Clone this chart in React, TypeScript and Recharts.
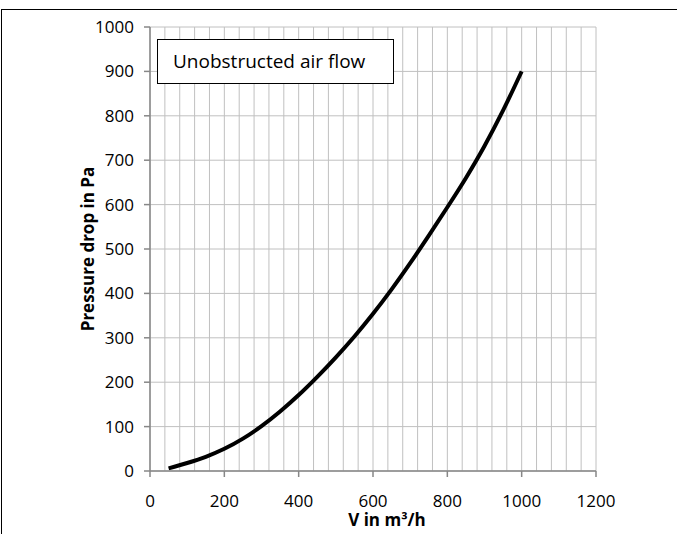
import React from 'react'
import { LineChart, Line, XAxis, YAxis, CartesianGrid, Legend, Label } from 'recharts'

const flow = [50, 100, 150, 200, 250, 300, 350, 400, 450, 500, 550, 600, 650, 700, 750, 800, 850, 900, 950, 1000]
const pressure = [6, 18, 32, 50, 73, 101, 134, 171, 212, 256, 303, 354, 409, 468, 530, 594, 660, 732, 812, 900]

const xTicks = [0, 200, 400, 600, 800, 1000, 1200]
const yTicks = [0, 100, 200, 300, 400, 500, 600, 700, 800, 900, 1000]
const minorX = [0, 40, 80, 120, 160, 200, 240, 280, 320, 360, 400, 440, 480, 520, 560, 600, 640, 680, 720, 760, 800, 840, 880, 920, 960, 1000, 1040, 1080, 1120, 1160, 1200]

const data = flow.map((v, i) => ({ v, p: pressure[i] }))

const font = '"Open Sans", sans-serif'
const axisColor = '#878787'
const gridColor = '#c0c0c0'

// minor vertical grid every 40 m³/h, placed through the x axis scale
const minorGrid = (props: any) => {
  const axis = props.xAxis
  if (axis && typeof axis.scale === 'function') {
    return minorX.map((v) => axis.scale(v))
  }
  const { offset } = props
  return minorX.map((v) => offset.left + (v / 1200) * offset.width)
}

export default function App() {
  return (
    <div style={{ position: 'fixed', left: 0, top: 0, width: 677, height: 534, background: '#fff', fontFamily: font }}>
      <div
        style={{
          position: 'absolute',
          left: 1,
          top: 9,
          width: 700,
          height: 600,
          borderTop: '1px solid #000',
          borderLeft: '1px solid #000',
        }}
      />
      <LineChart width={677} height={534} data={data} margin={{ top: 27, right: 81, left: 90, bottom: 33 }}>
        <CartesianGrid stroke={gridColor} strokeWidth={1} verticalCoordinatesGenerator={minorGrid} />
        <XAxis
          dataKey="v"
          type="number"
          domain={[0, 1200]}
          ticks={xTicks}
          height={30}
          stroke={axisColor}
          strokeWidth={1.5}
          tickSize={6}
          tickMargin={18}
          tick={{ fill: '#000', fontSize: 17, fontFamily: font }}
        >
          <Label
            value="V in m³/h"
            position="bottom"
            offset={0}
            dx={14}
            dy={13}
            style={{ fill: '#000', fontSize: 17, fontWeight: 'bold', fontFamily: font }}
          />
        </XAxis>
        <YAxis
          type="number"
          domain={[0, 1000]}
          ticks={yTicks}
          width={60}
          stroke={axisColor}
          strokeWidth={1.5}
          tickSize={6}
          tickMargin={10}
          tick={{ fill: '#000', fontSize: 17, fontFamily: font }}
        >
          <Label
            value="Pressure drop in Pa"
            angle={-90}
            position="left"
            offset={0}
            dx={-2}
            style={{ fill: '#000', fontSize: 17, fontWeight: 'bold', fontFamily: font, textAnchor: 'middle' }}
          />
        </YAxis>
        <Legend
          layout="horizontal"
          verticalAlign="middle"
          align="center"
          wrapperStyle={{ left: 157, top: 39, width: 'auto' }}
          content={() => (
            <div
              style={{
                width: 237,
                height: 45,
                boxSizing: 'border-box',
                border: '1.5px solid #000',
                background: '#fff',
                paddingLeft: 15,
                lineHeight: '42px',
                fontSize: 19,
                color: '#000',
                fontFamily: font,
              }}
            >
              Unobstructed air flow
            </div>
          )}
        />
        <Line
          dataKey="p"
          type="monotone"
          stroke="#000"
          strokeWidth={4}
          dot={false}
          isAnimationActive={false}
        />
      </LineChart>
    </div>
  )
}
